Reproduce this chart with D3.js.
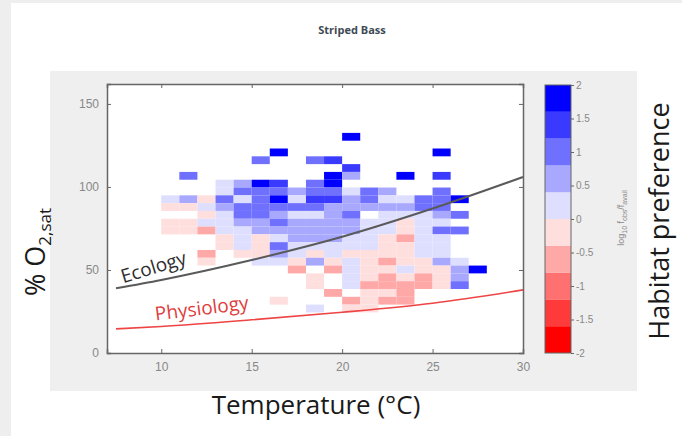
<!DOCTYPE html>
<html>
<head>
<meta charset="utf-8">
<script src="https://cdn.jsdelivr.net/npm/d3@7"></script>
<style>
  html, body { margin: 0; padding: 0; background: #eeeeee; }
  svg { display: block; }
</style>
</head>
<body>
<svg id="chart" width="682" height="436"></svg>
<script>
// temperature bins (lower edge, °C) and O2 bins (centre, % sat)
const tempBins = [10, 11, 12, 13, 14, 15, 16, 17, 18, 19, 20, 21, 22, 23, 24, 25, 26, 27];
const o2Bins = [130.2, 120.8, 116.1, 111.4, 106.7, 102, 97.3, 92.6, 87.9, 83.2, 78.5, 73.8,
                69.1, 64.4, 59.7, 55, 50.3, 45.6, 40.9, 36.2, 31.5, 26.8];
const o2BinHeight = 4.7;
const n = null;
// log10 f_obs/f_avail, one row per o2 bin, one column per temperature bin
const prefGrid = [
  [n, n, n, n, n, n, n, n, n, n, 1.8, n, n, n, n, n, n, n],
  [n, n, n, n, n, n, 1.8, n, n, n, n, n, n, n, n, 1.8, n, n],
  [n, n, n, n, n, 1.0, n, n, 1.0, 1.4, n, n, n, n, n, n, n, n],
  [n, n, n, n, n, n, n, n, n, n, 1.4, n, n, n, n, n, n, n],
  [n, 1.0, n, n, n, n, n, n, n, 1.8, 0.6, n, n, 1.8, n, 1.4, n, n],
  [n, n, n, 0.2, 0.6, 1.8, 1.4, n, 1.0, 1.8, n, n, n, n, n, n, n, n],
  [n, n, n, 0.2, 1.0, 1.0, 1.0, 0.6, 1.0, 1.0, 0.2, 1.0, 0.6, n, n, 1.0, n, n],
  [0.2, 0.6, -0.2, 1.0, 0.2, 1.0, 1.8, 0.2, 1.4, 1.4, 0.6, 1.0, 0.2, 0.2, 1.0, 1.0, 1.8, n],
  [-0.2, -0.2, 0.2, 0.6, 1.0, 1.0, 1.0, 1.0, 1.0, 0.6, 0.6, 0.6, 0.6, 0.6, 1.0, 1.0, n, n],
  [n, n, -0.2, 0.2, 1.0, 1.0, 0.6, 0.2, 0.2, 0.6, 1.0, n, 0.2, 0.2, 0.2, 0.6, 1.0, n],
  [-0.2, -0.2, 0.2, 0.2, 0.6, 0.6, 1.0, 0.6, 0.6, 0.6, 0.6, 0.2, 0.2, -0.2, 0.2, 0.2, n, n],
  [-0.2, -0.2, -0.6, 0.2, 0.2, 0.6, 0.6, 0.6, 0.6, 0.6, 0.6, 0.2, 0.2, -0.2, 0.2, 1.0, 1.0, n],
  [n, n, n, -0.2, 0.2, -0.2, 0.2, 0.6, 0.6, 0.6, 0.2, 0.2, -0.2, -0.6, 0.2, 0.2, n, n],
  [n, n, n, -0.2, 0.2, -0.2, 1.0, 0.2, 0.2, 0.2, 0.2, 0.2, -0.2, -0.2, 0.2, 0.2, n, n],
  [n, n, -0.6, n, -0.2, -0.2, 0.6, 0.2, -0.2, 0.2, -0.2, -0.2, -0.2, -0.2, 0.2, 0.2, n, n],
  [n, n, -0.2, n, n, 0.2, 0.2, -0.2, 0.6, -0.2, 0.2, -0.2, -0.6, -0.2, -0.2, 0.6, 0.2, n],
  [n, n, n, n, n, n, n, -0.6, n, -0.6, 0.2, -0.2, -0.2, 0.2, -0.2, -0.2, 0.6, 1.8],
  [n, n, n, n, n, n, n, n, -0.2, n, 0.2, -0.2, -0.6, -0.2, -0.6, -0.2, 0.6, n],
  [n, n, n, n, n, n, n, n, -0.2, n, 0.2, -0.6, -0.6, -0.6, -0.6, -0.2, 1.0, n],
  [n, n, n, n, n, n, n, n, n, -0.6, n, -0.2, -0.2, -0.6, n, n, n, n],
  [n, n, n, n, n, n, -0.2, n, n, n, -0.6, -0.2, -0.6, -0.6, n, n, n, n],
  [n, n, n, n, n, n, n, n, 0.2, n, -0.2, -0.2, n, n, n, n, n, n]
];

// limit curves
const curveTemps = [7.5, 10, 15, 20, 25, 30];
const ecologyO2 = [39, 44, 56, 70, 87, 106];
const physiologyO2 = [14.5, 16, 20, 24.5, 30, 38];

const xTicks = [10, 15, 20, 25, 30];
const yTicks = [0, 50, 100, 150];
const cbarTicks = [2, 1.5, 1, 0.5, 0, -0.5, -1, -1.5, -2];
const prefColors = ['#ff0000', '#ff3a3a', '#ff7070', '#ffa8a8', '#ffdede',
                    '#dedeff', '#a8a8ff', '#7070ff', '#3a3aff', '#0000ff'];

const svg = d3.select('#chart');

// page card and figure background
svg.append('rect').attr('x', 11).attr('y', 3).attr('width', 671).attr('height', 433).attr('fill', '#fff');
svg.append('rect').attr('x', 50).attr('y', 71).attr('width', 587).attr('height', 320).attr('fill', '#efefef');

svg.append('text')
  .attr('x', 352).attr('y', 34)
  .attr('text-anchor', 'middle')
  .attr('font-family', 'Open Sans, sans-serif')
  .attr('font-weight', 'bold')
  .attr('font-size', 11)
  .attr('fill', '#3d4a55')
  .text('Striped Bass');

const x = d3.scaleLinear().domain([7, 30]).range([107, 523]);
const y = d3.scaleLinear().domain([0, 162]).range([353, 84]);
const color = d3.scaleQuantize().domain([-2, 2]).range(prefColors);

svg.append('rect')
  .attr('x', x(7)).attr('y', y(162))
  .attr('width', x(30) - x(7)).attr('height', y(0) - y(162))
  .attr('fill', '#fff');

const cells = [];
o2Bins.forEach((o2, i) => {
  tempBins.forEach((t, j) => {
    const v = prefGrid[i][j];
    if (v !== null) cells.push({ t, o2, v });
  });
});

svg.append('g').selectAll('rect')
  .data(cells)
  .join('rect')
  .attr('x', d => x(d.t))
  .attr('y', d => y(d.o2 + o2BinHeight / 2))
  .attr('width', d => x(d.t + 1) - x(d.t))
  .attr('height', d => y(d.o2 - o2BinHeight / 2) - y(d.o2 + o2BinHeight / 2))
  .attr('fill', d => color(d.v));

const line = d3.line()
  .x((d, i) => x(curveTemps[i]))
  .y(d => y(d))
  .curve(d3.curveMonotoneX);

svg.append('path').attr('d', line(ecologyO2))
  .attr('fill', 'none').attr('stroke', '#5a5a5a').attr('stroke-width', 2);
svg.append('path').attr('d', line(physiologyO2))
  .attr('fill', 'none').attr('stroke', '#ee4444').attr('stroke-width', 1.6);

svg.append('text')
  .attr('transform', `translate(${x(7.9)},${y(42)}) rotate(-17)`)
  .attr('font-family', 'Open Sans, sans-serif')
  .attr('font-size', 19)
  .attr('fill', '#2e2e2e')
  .text('Ecology');
svg.append('text')
  .attr('transform', `translate(${x(9.7)},${y(19.5)}) rotate(-7)`)
  .attr('font-family', 'Open Sans, sans-serif')
  .attr('font-size', 19)
  .attr('fill', '#e03c3c')
  .text('Physiology');

// axes, box style with inward ticks
const tickFont = g => g.selectAll('text')
  .attr('font-family', 'Liberation Sans, sans-serif')
  .attr('font-size', 12)
  .attr('fill', '#888');

const xAxis = svg.append('g').attr('transform', `translate(0,${y(0)})`)
  .call(d3.axisBottom(x).tickValues(xTicks).tickSize(-4).tickPadding(9))
  .call(tickFont);
const yAxis = svg.append('g').attr('transform', `translate(${x(7)},0)`)
  .call(d3.axisLeft(y).tickValues(yTicks).tickSize(-4).tickPadding(8))
  .call(tickFont);
const xTop = svg.append('g').attr('transform', `translate(0,${y(162)})`)
  .call(d3.axisTop(x).tickValues(xTicks).tickSize(-4).tickFormat(''));
const yRight = svg.append('g').attr('transform', `translate(${x(30)},0)`)
  .call(d3.axisRight(y).tickValues(yTicks).tickSize(-4).tickFormat(''));
[xAxis, yAxis, xTop, yRight].forEach(g => {
  g.select('.domain').attr('stroke', '#666').attr('stroke-width', 1.5);
  g.selectAll('.tick line').attr('stroke', '#666');
});

svg.append('text')
  .attr('x', 316).attr('y', 414)
  .attr('text-anchor', 'middle')
  .attr('font-family', 'Open Sans, sans-serif')
  .attr('font-size', 26)
  .attr('fill', '#1a1a1a')
  .text('Temperature (°C)');

const yTitle = svg.append('text')
  .attr('transform', 'translate(45,252) rotate(-90)')
  .attr('text-anchor', 'middle')
  .attr('font-family', 'Open Sans, sans-serif')
  .attr('font-size', 27)
  .attr('fill', '#1a1a1a');
yTitle.append('tspan').text('% O');
yTitle.append('tspan').attr('font-size', 17).attr('dy', 6).text('2,sat');

// colorbar
const cb = d3.scaleLinear().domain([-2, 2]).range([353, 85]);
const cbBands = d3.range(prefColors.length).map(i => -2 + i * 0.4);
svg.append('g').selectAll('rect')
  .data(cbBands)
  .join('rect')
  .attr('x', 545).attr('width', 26)
  .attr('y', d => cb(d + 0.4))
  .attr('height', d => cb(d) - cb(d + 0.4))
  .attr('fill', d => color(d + 0.2));
svg.append('rect').attr('x', 545).attr('y', 85).attr('width', 26).attr('height', 268)
  .attr('fill', 'none').attr('stroke', '#666').attr('stroke-width', 1);
const cbAxis = svg.append('g').attr('transform', 'translate(571,0)')
  .call(d3.axisRight(cb).tickValues(cbarTicks).tickSize(3).tickPadding(2).tickFormat(d => String(d)));
cbAxis.select('.domain').remove();
cbAxis.selectAll('.tick line').attr('stroke', '#666');
cbAxis.selectAll('text')
  .attr('font-family', 'Liberation Sans, sans-serif')
  .attr('font-size', 10)
  .attr('fill', '#888');

const cbTitle = svg.append('text')
  .attr('transform', 'translate(624,218) rotate(-90)')
  .attr('text-anchor', 'middle')
  .attr('font-family', 'Liberation Sans, sans-serif')
  .attr('font-size', 9)
  .attr('fill', '#888');
cbTitle.append('tspan').text('log');
cbTitle.append('tspan').attr('font-size', 7).attr('dy', 3).text('10');
cbTitle.append('tspan').attr('dy', -3).text(' f');
cbTitle.append('tspan').attr('font-size', 7).attr('dy', 3).text('obs');
cbTitle.append('tspan').attr('dy', -3).text('/f');
cbTitle.append('tspan').attr('font-size', 7).attr('dy', 3).text('avail');

svg.append('text')
  .attr('transform', 'translate(669,221) rotate(-90)')
  .attr('text-anchor', 'middle')
  .attr('font-family', 'Open Sans, sans-serif')
  .attr('font-size', 27)
  .attr('fill', '#1a1a1a')
  .text('Habitat preference');
</script>
</body>
</html>
